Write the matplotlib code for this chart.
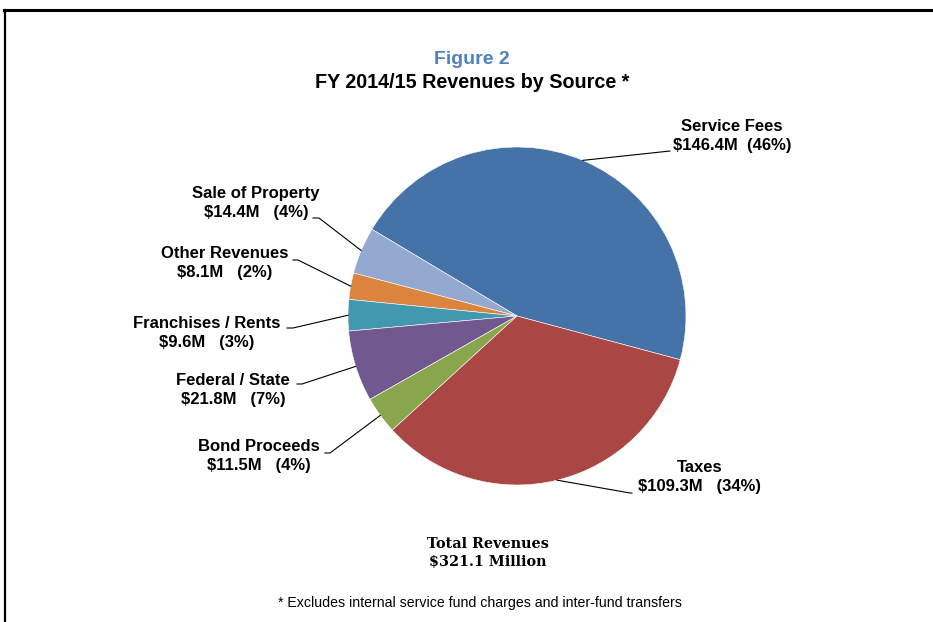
import numpy as np
import matplotlib
matplotlib.use("Agg")
import matplotlib.pyplot as plt

plt.rcParams['font.family'] = ['Liberation Sans', 'DejaVu Sans']

# revenue sources, counter-clockwise from Service Fees
sources = ["Service Fees", "Sale of Property", "Other Revenues",
           "Franchises / Rents", "Federal / State", "Bond Proceeds", "Taxes"]
amounts = [146.4, 14.4, 8.1, 9.6, 21.8, 11.5, 109.3]
pct_labels = ["46%", "4%", "2%", "3%", "7%", "4%", "34%"]
colors = ["#4572A7", "#93A9CF", "#DB843D", "#4198AF", "#71588F", "#89A54E", "#AA4643"]
total_label = "$321.1 Million"

W, H = 933, 622
CX, CY, R = 517, H - 316, 169

# label text centres (pixels, y from top) and leader-line stub ends
label_pos = [(732, 136), (256, 203), (225, 263), (207, 333), (233, 390), (259, 456), (700, 477)]
stub_pts = [[(670, 151)], [(313, 218), (319, 218)], [(293, 260), (298, 260)],
            [(287, 328), (293, 328)], [(297, 384), (302, 384)], [(325, 453), (330, 453)],
            [(632, 493), (630, 493)]]
spaces = ["  ", "   ", "   ", "   ", "   ", "   ", "   "]

fig = plt.figure(figsize=(W / 100, H / 100), dpi=100)
ax = fig.add_axes([0, 0, 1, 1])

wedges, _ = ax.pie(amounts, colors=colors, startangle=-15, counterclock=True,
                   center=(CX, CY), radius=R,
                   wedgeprops=dict(edgecolor="white", linewidth=0.4))
ax.set_xlim(0, W)
ax.set_ylim(0, H)
ax.set_aspect("equal")
ax.axis("off")

for w, name, amt, pct, (lx, ly), stub, sp in zip(wedges, sources, amounts, pct_labels,
                                                 label_pos, stub_pts, spaces):
    mid = np.deg2rad((w.theta1 + w.theta2) / 2)
    ex, ey = CX + R * np.cos(mid), CY + R * np.sin(mid)
    xs = [p[0] for p in stub] + [ex]
    ys = [H - p[1] for p in stub] + [ey]
    ax.plot(xs, ys, color="black", linewidth=0.8)
    ax.text(lx, H - ly, f"{name}\n${amt}M{sp}({pct})", ha="center", va="center",
            fontsize=12, fontweight="bold", linespacing=1.4)

ax.text(472, H - 60, "Figure 2", ha="center", va="center", fontsize=14,
        fontweight="bold", color="#4F81BD")
ax.text(472, H - 83, "FY 2014/15 Revenues by Source *", ha="center", va="center",
        fontsize=14.2, fontweight="bold")

ax.text(488, H - 553, "Total Revenues\n" + total_label, ha="center", va="center",
        fontsize=10.4, fontweight="bold", family="DejaVu Serif", linespacing=1.35)
ax.text(480, H - 603, "* Excludes internal service fund charges and inter-fund transfers",
        ha="center", va="center", fontsize=10.2)

# border of the surrounding box
ax.plot([4, W], [H - 10, H - 10], color="black", linewidth=2.2, clip_on=False)
ax.plot([5, 5], [H - 10, 0], color="black", linewidth=1.6, clip_on=False)

fig.savefig("out.png", dpi=100)
